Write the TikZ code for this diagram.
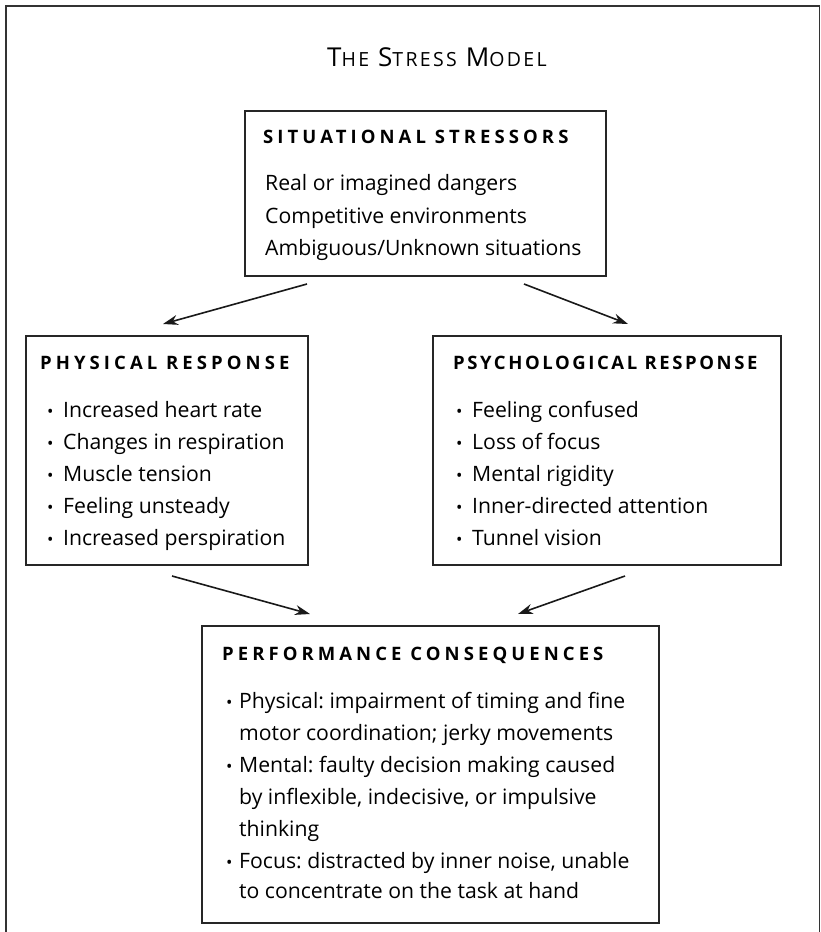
\documentclass[tikz,border=0pt]{standalone}
\usepackage{fontspec}
\setmainfont{Open Sans}
\newfontfamily\hdrfont[LetterSpace=22]{Open Sans}
\newfontfamily\hdrfontnarrow[LetterSpace=14]{Open Sans}
\newfontfamily\ttlfont[LetterSpace=12]{Open Sans}
\usetikzlibrary{arrows.meta,calc}
\frenchspacing
\begin{document}
\frenchspacing
\begin{tikzpicture}[x=1pt,y=-1pt,
  box/.style={draw=black!85,line width=1.2pt,rectangle,inner sep=0pt,outer sep=0pt},
  hdr/.style={anchor=base west,inner sep=0pt,font=\hdrfont\bfseries\fontsize{18.5}{18.5}\selectfont},
  hdrn/.style={anchor=base west,inner sep=0pt,font=\hdrfontnarrow\bfseries\fontsize{18.5}{18.5}\selectfont},
  txt/.style={anchor=base west,inner sep=0pt,font=\fontsize{21.2}{21.2}\selectfont},
  bul/.style={anchor=base west,inner sep=0pt,font=\fontsize{17}{17}\selectfont},
  arr/.style={draw=black!90,line width=1.6pt,-{Stealth[length=15pt,width=10pt]}},
  frame/.style={draw=black!80,line width=1.2pt}]
\useasboundingbox (0,0) rectangle (821,932);
% outer frame
\coordinate (fbl) at (6,932);
\coordinate (ftl) at (6,6);
\coordinate (ftr) at (819.5,6);
\coordinate (fbr) at (819.5,932);
\draw[frame] (fbl) -- (ftl) -- (ftr) -- (fbr);
% title
\node[anchor=base west,inner sep=0pt] (title) at (327,66)
  {\ttlfont{\fontsize{26}{26}\selectfont T}{\fontsize{19.5}{19.5}\selectfont HE}\hspace{9pt}{\fontsize{26}{26}\selectfont S}{\fontsize{19.5}{19.5}\selectfont TRESS}\hspace{9pt}{\fontsize{26}{26}\selectfont M}{\fontsize{19.5}{19.5}\selectfont ODEL}};
% boxes
\node[box,minimum width=361pt,minimum height=165pt] (top) at (425.5,193.5) {};
\node[box,minimum width=282pt,minimum height=229pt] (phys) at (167,450.5) {};
\node[box,minimum width=348pt,minimum height=229pt] (psych) at (607,450.5) {};
\node[box,minimum width=457pt,minimum height=297pt] (perf) at (430.5,774.5) {};
% top box text
\node[hdr] (h1) at (263,143) {SITUATIONAL STRESSORS};
\node[txt] (t1) at (265,190) {Real or imagined dangers};
\node[txt] (t2) at (265,223) {Competitive environments};
\node[txt] (t3) at (265,255) {Ambiguous/Unknown situations};
% physical
\node[hdr] (h2) at (40,369) {PHYSICAL RESPONSE};
\foreach \y/\t [count=\i] in {417/Increased heart rate,449/Changes in respiration,481/Muscle tension,513/Feeling unsteady,545/Increased perspiration}{
  \node[bul] (pb\i) at (47,\y) {•};
  \node[txt] (pt\i) at (63,\y) {\t};
}
% psychological
\node[hdrn] (h3) at (453,369) {PSYCHOLOGICAL RESPONSE};
\foreach \y/\t [count=\i] in {417/Feeling confused,449/Loss of focus,481/Mental rigidity,513/Inner-directed attention,545/Tunnel vision}{
  \node[bul] (sb\i) at (456,\y) {•};
  \node[txt] (st\i) at (472,\y) {\t};
}
% performance
\node[hdr] (h4) at (222,660) {PERFORMANCE CONSEQUENCES};
\node[bul] (qb1) at (226,708) {•};
\node[bul] (qb2) at (226,772) {•};
\node[bul] (qb3) at (226,868) {•};
\node[txt] (q1) at (239,708) {Physical: impairment of timing and fine};
\node[txt] (q2) at (239,740) {motor coordination; jerky movements};
\node[txt] (q3) at (239,772) {Mental: faulty decision making caused};
\node[txt] (q4) at (239,804) {by inflexible, indecisive, or impulsive};
\node[txt] (q5) at (239,836) {thinking};
\node[txt] (q6) at (239,868) {Focus: distracted by inner noise, unable};
\node[txt] (q7) at (239,898) {to concentrate on the task at hand};
% arrows
\draw[arr] ($(top.south west)+(62,8)$) -- ($(phys.north west)+(137,-12)$);
\draw[arr] ($(top.south east)+(-82,8)$) -- ($(psych.north west)+(195,-12)$);
\draw[arr] ($(phys.south west)+(146,11)$) -- ($(perf.north west)+(108,-12)$);
\draw[arr] ($(psych.south west)+(192,11)$) -- ($(perf.north west)+(316,-12)$);
\end{tikzpicture}
\end{document}
